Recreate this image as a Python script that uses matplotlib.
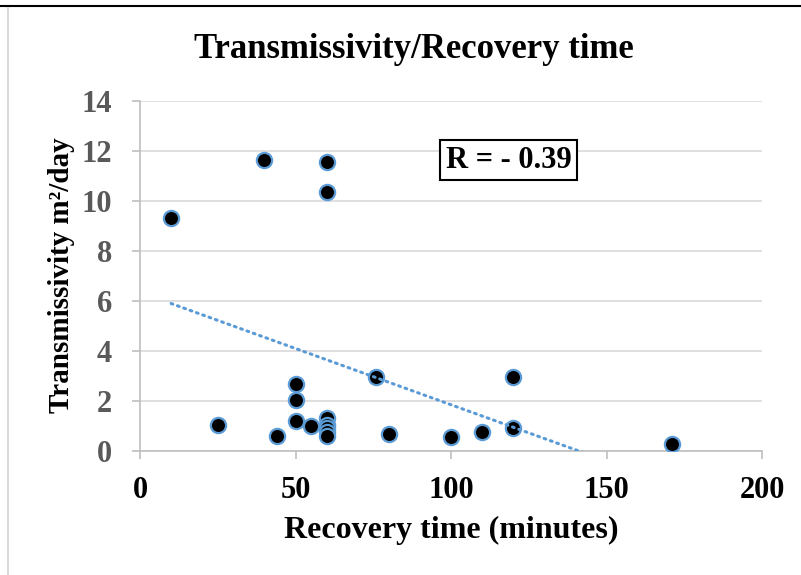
import numpy as np
import matplotlib
matplotlib.use("Agg")
from matplotlib import pyplot as plt
from matplotlib.lines import Line2D

# recovery time (minutes) and transmissivity (m2/day)
recovery = [10, 40, 60, 60, 25, 44, 50, 50, 50, 55, 60, 60, 60, 60, 60, 76, 80, 100, 110, 120, 120, 171]
transmissivity = [9.3, 11.65, 11.55, 10.35, 1.04, 0.6, 2.7, 2.04, 1.22, 1.0, 1.34, 1.04, 0.92, 0.76, 0.6,
                  2.97, 0.7, 0.55, 0.75, 2.97, 0.92, 0.27]
x_ticks = [0, 50, 100, 150, 200]
y_ticks = [0, 2, 4, 6, 8, 10, 12, 14]
r_label = "R = - 0.39"
# trendline as shown on the chart (slope / intercept)
trend_slope = -0.045
trend_intercept = 6.35

plt.rcParams["font.family"] = ["Liberation Serif", "DejaVu Serif"]
plt.rcParams["font.weight"] = "bold"

fig = plt.figure(figsize=(8.01, 5.75), dpi=100)
ax = fig.add_axes([140 / 801, 1 - 451 / 575, 622 / 801, 350 / 575])

blue = "#5B9BD5"
grey = "#D9D9D9"

ax.scatter(recovery, transmissivity, s=120, c="black", edgecolors=blue, linewidths=1.6, zorder=3)

xs = np.array([min(recovery), max(recovery)])
ax.plot(xs, trend_slope * xs + trend_intercept, color=blue, linewidth=2.2, linestyle=(0, (0.6, 1.6)),
        dash_capstyle="round", zorder=4)

ax.set_xlim(0, 200)
ax.set_ylim(0, 14)
ax.set_xticks(x_ticks)
ax.set_yticks(y_ticks)
ax.yaxis.grid(True, color=grey, linewidth=1.2)
ax.set_axisbelow(True)
for side in ["top", "right"]:
    ax.spines[side].set_visible(False)
for side in ["left", "bottom"]:
    ax.spines[side].set_color("#BFBFBF")
    ax.spines[side].set_linewidth(1.2)
ax.tick_params(axis="both", direction="out", length=6, width=1.2, color="#BFBFBF", labelsize=22)
ax.tick_params(axis="y", labelcolor="#595959", pad=14)
ax.tick_params(axis="x", labelcolor="black", pad=12)
for lab in ax.get_xticklabels() + ax.get_yticklabels():
    lab.set_fontweight("bold")

ax.text(118.6, 11.64, r_label, fontsize=22, fontweight="bold", ha="center", va="center",
        bbox=dict(boxstyle="square,pad=0.18", facecolor="white", edgecolor="black", linewidth=1.5),
        zorder=5)

fig.text(414 / 801, 1 - 50 / 575, "Transmissivity/Recovery time", fontsize=25, fontweight="bold",
         ha="center", va="center")
fig.text(451 / 801, 1 - 530 / 575, "Recovery time (minutes)", fontsize=23, fontweight="bold",
         ha="center", va="center")
fig.text(62 / 801, 1 - 275 / 575, "Transmissivity m²/day", fontsize=21, fontweight="bold",
         ha="center", va="center", rotation=90)

# frame lines of the surrounding document
fig.add_artist(Line2D([0, 1], [1 - 6 / 575, 1 - 6 / 575], color="black", linewidth=1.5))
fig.add_artist(Line2D([8 / 801, 8 / 801], [0, 1 - 8 / 575], color=grey, linewidth=1.5))

fig.savefig("out.png", dpi=100)
